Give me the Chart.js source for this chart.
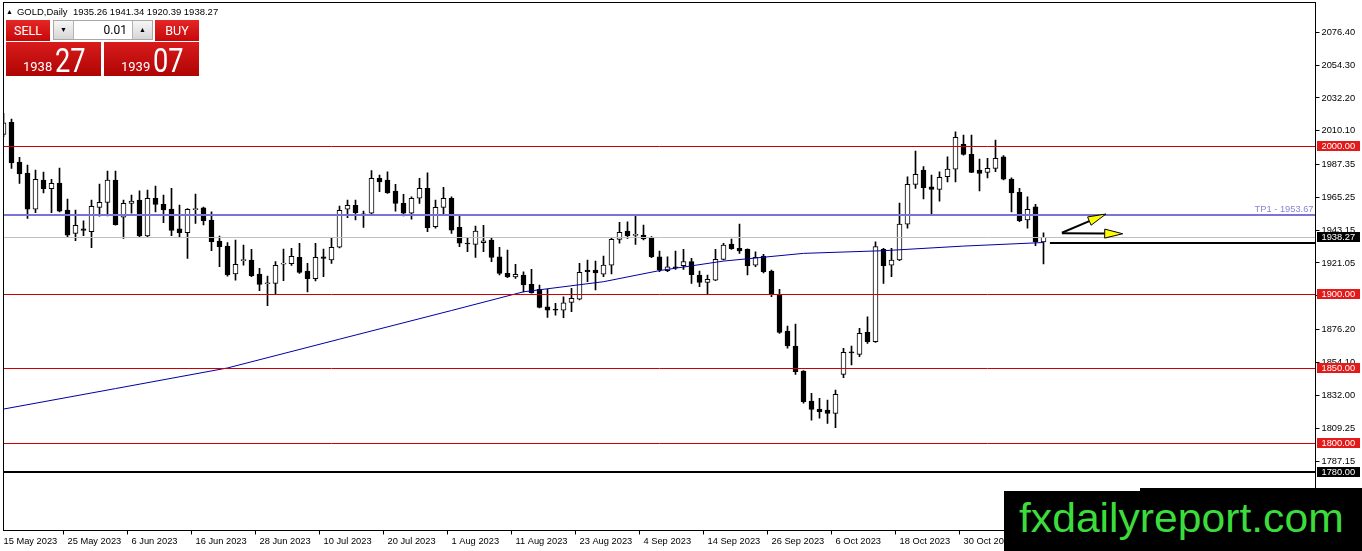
<!DOCTYPE html>
<html>
<head>
<meta charset="utf-8">
<title>GOLD, Daily</title>
<script src="https://cdn.jsdelivr.net/npm/chart.js@4.4.1/dist/chart.umd.min.js"></script>
<style>
  html, body { margin: 0; padding: 0; background: #fff; overflow: hidden; }
  #wrap { position: relative; width: 1362px; height: 551px; font-family: "Liberation Sans", Arial, sans-serif; }
  #chart { position: absolute; left: 0; top: 0; }
  #hdr { position: absolute; left: 6px; top: 6px; font-size: 9.5px; line-height: 11px; color: #000; white-space: pre; }
  #hdr .tri { font-size: 7px; vertical-align: 1px; margin-right: 4px; }
  .red { position: absolute; color: #fff; background: linear-gradient(#e42626, #c80808); font-family: Roboto, sans-serif; }
  #sell, #buy { top: 20px; width: 44px; height: 21px; line-height: 21px; text-align: center; font-size: 12.5px; }
  #sell { left: 6px; }
  #buy { left: 155px; }
  #lot { position: absolute; left: 53px; top: 20px; width: 100px; height: 20px; background: #fff; box-sizing: border-box; border: 1px solid #a8a8a8; }
  .spin { position: absolute; top: 0; width: 19px; height: 18px; background: linear-gradient(#f6f6f6, #d6d6d6); font-size: 7px; text-align: center; line-height: 18px; color: #000; }
  #dn { left: 0; border-right: 1px solid #b4b4b4; }
  #up { right: 0; border-left: 1px solid #b4b4b4; }
  #lotv { position: absolute; right: 25px; top: 0; line-height: 18px; font-size: 12px; font-family: Roboto, sans-serif; color: #000; }
  .px { top: 42px; width: 95px; height: 34px; background: linear-gradient(#d81c1c, #b00404); }
  #bidbox { left: 6px; }
  #askbox { left: 104px; }
  .px .sm { position: absolute; left: 17px; top: 18px; font-size: 13px; line-height: 14px; }
  .px .big { position: absolute; left: 49px; top: 1px; font-size: 34px; line-height: 34px; transform: scaleX(0.8); transform-origin: left; }
  #wm1 { position: absolute; left: 1004px; top: 491px; width: 358px; height: 60px; background: #000; }
  #wm2 { position: absolute; left: 1140px; top: 488px; width: 222px; height: 4px; background: #000; }
  #wmtext { position: absolute; left: 1019px; top: 495px; font-size: 41px; line-height: 46px; color: #3cdc3c; transform: scaleX(1.04); transform-origin: left; }
</style>
</head>
<body>
<div id="wrap">
  <canvas id="chart" width="1362" height="551"></canvas>
  <div id="hdr"></div>
  <div id="sell" class="red">SELL</div>
  <div id="lot"><div id="dn" class="spin">&#9660;</div><div id="lotv">0.01</div><div id="up" class="spin">&#9650;</div></div>
  <div id="buy" class="red">BUY</div>
  <div id="bidbox" class="red px"><span class="sm"></span><span class="big"></span></div>
  <div id="askbox" class="red px"><span class="sm"></span><span class="big"></span></div>
  <div id="wm1"></div>
  <div id="wm2"></div>
  <div id="wmtext">fxdailyreport.com</div>
</div>
<script>
// date labels, one every 8 trading days
const tickLabels = ['15 May 2023', '25 May 2023', '6 Jun 2023', '16 Jun 2023', '28 Jun 2023', '10 Jul 2023',
  '20 Jul 2023', '1 Aug 2023', '11 Aug 2023', '23 Aug 2023', '4 Sep 2023', '14 Sep 2023', '26 Sep 2023',
  '6 Oct 2023', '18 Oct 2023', '30 Oct 2023', '9 Nov 2023'];
const tickStep = 8;
const slots = 165;

// daily candles, 15 May 2023 .. 13 Nov 2023
const open = [2007.7, 2015.8, 1989.0, 1981.6, 1957.2, 1976.9, 1971.0, 1974.9, 1956.7, 1941.0,
  1944.1, 1942.1, 1958.5, 1961.9, 1976.9, 1951.8, 1961.2, 1963.4, 1939.2, 1964.6,
  1960.5, 1957.4, 1944.1, 1941.4, 1957.0, 1958.2, 1949.9, 1935.8, 1932.4, 1913.6,
  1922.6, 1923.0, 1913.6, 1907.0, 1907.3, 1920.2, 1920.5, 1924.8, 1915.6, 1910.4,
  1925.2, 1923.0, 1931.6, 1957.2, 1959.9, 1953.8, 1954.5, 1978.0, 1976.9, 1969.5,
  1961.2, 1954.5, 1964.6, 1971.3, 1945.4, 1958.5, 1964.6, 1945.0, 1934.1, 1933.6,
  1934.7, 1936.5, 1925.2, 1914.0, 1911.6, 1912.9, 1906.6, 1903.3, 1891.5, 1889.5,
  1889.3, 1894.5, 1896.7, 1916.3, 1916.3, 1913.4, 1919.6, 1936.9, 1942.5, 1939.6,
  1939.8, 1938.3, 1925.2, 1915.8, 1918.0, 1919.2, 1921.9, 1912.9, 1908.0, 1909.5,
  1923.5, 1933.8, 1930.9, 1930.2, 1919.6, 1925.7, 1915.6, 1899.4, 1875.2, 1865.1,
  1848.2, 1828.0, 1822.6, 1822.0, 1819.7, 1846.0, 1860.8, 1859.5, 1874.3, 1868.0,
  1930.2, 1919.6, 1923.0, 1947.1, 1974.0, 1983.6, 1972.4, 1970.6, 1979.1, 1984.3,
  2000.9, 1994.2, 1983.6, 1982.1, 1984.8, 1992.6, 1977.6, 1968.6, 1950.0, 1958.9,
  1935.26];
const high = [2021.8, 2018.0, 1992.2, 1987.0, 1983.6, 1982.3, 1977.4, 1985.0, 1964.1, 1956.7,
  1949.5, 1963.4, 1974.2, 1983.0, 1983.0, 1963.4, 1966.8, 1969.7, 1970.2, 1972.9,
  1966.8, 1971.3, 1960.1, 1957.6, 1967.5, 1958.6, 1955.5, 1939.2, 1934.7, 1936.5,
  1933.1, 1930.2, 1917.4, 1912.2, 1921.9, 1930.4, 1930.9, 1934.3, 1920.8, 1934.3,
  1930.4, 1937.6, 1959.4, 1963.4, 1963.4, 1956.0, 1983.2, 1980.3, 1982.5, 1974.0,
  1967.3, 1965.6, 1978.0, 1981.8, 1963.4, 1972.0, 1965.6, 1953.3, 1938.3, 1945.9,
  1946.4, 1938.3, 1931.6, 1929.7, 1920.1, 1915.1, 1916.7, 1906.2, 1903.3, 1893.8,
  1898.3, 1903.9, 1920.8, 1923.0, 1922.3, 1925.7, 1938.3, 1948.4, 1948.8, 1952.6,
  1946.6, 1938.8, 1929.1, 1925.2, 1929.1, 1930.2, 1924.1, 1915.6, 1912.9, 1930.2,
  1934.3, 1937.2, 1947.3, 1930.6, 1928.6, 1926.8, 1916.3, 1903.3, 1878.5, 1879.9,
  1848.6, 1833.2, 1829.8, 1828.7, 1835.4, 1863.5, 1865.1, 1877.0, 1884.8, 1935.3,
  1930.9, 1930.9, 1961.4, 1979.1, 1996.4, 1985.9, 1980.3, 1982.5, 1992.6, 2009.4,
  2007.2, 2007.2, 1991.0, 1991.5, 2003.8, 1993.3, 1978.4, 1971.3, 1965.6, 1960.5,
  1941.34];
const low = [2006.1, 1984.8, 1974.7, 1951.1, 1954.9, 1968.3, 1954.9, 1955.5, 1938.0, 1936.0,
  1939.4, 1931.3, 1952.6, 1952.8, 1946.5, 1937.6, 1954.5, 1938.7, 1938.7, 1955.5,
  1948.1, 1939.4, 1938.7, 1924.1, 1947.7, 1946.6, 1929.3, 1918.5, 1912.2, 1909.5,
  1919.6, 1911.8, 1902.3, 1892.2, 1900.1, 1909.1, 1919.4, 1914.0, 1901.6, 1908.9,
  1911.8, 1920.8, 1931.2, 1951.5, 1950.0, 1945.0, 1953.9, 1969.0, 1967.9, 1956.0,
  1952.8, 1950.6, 1961.2, 1942.1, 1944.4, 1953.3, 1941.0, 1932.0, 1928.6, 1924.8,
  1928.6, 1921.9, 1912.9, 1911.1, 1910.7, 1901.6, 1900.6, 1890.8, 1884.4, 1885.9,
  1884.1, 1888.2, 1896.1, 1908.4, 1902.8, 1911.8, 1913.6, 1934.3, 1937.6, 1933.6,
  1936.5, 1924.6, 1915.1, 1915.1, 1916.7, 1916.7, 1907.3, 1905.0, 1899.9, 1909.1,
  1923.0, 1930.2, 1927.5, 1912.9, 1918.5, 1914.4, 1898.3, 1873.6, 1863.7, 1846.0,
  1826.5, 1815.2, 1816.4, 1813.0, 1810.0, 1843.7, 1852.3, 1857.9, 1866.9, 1867.5,
  1907.3, 1911.8, 1922.6, 1944.4, 1971.3, 1964.1, 1953.3, 1962.7, 1975.7, 1975.7,
  1993.7, 1981.8, 1969.5, 1978.4, 1982.5, 1976.9, 1955.5, 1948.8, 1944.4, 1932.6,
  1920.39];
const close = [2015.5, 1988.5, 1981.1, 1957.2, 1977.4, 1971.0, 1974.7, 1956.0, 1939.8, 1946.4,
  1943.0, 1959.2, 1961.9, 1976.9, 1946.8, 1961.2, 1962.7, 1939.2, 1964.6, 1960.5,
  1956.7, 1943.0, 1941.4, 1957.2, 1957.4, 1949.5, 1935.3, 1932.0, 1912.9, 1920.1,
  1923.0, 1912.4, 1906.6, 1907.3, 1919.4, 1920.5, 1925.5, 1914.7, 1910.4, 1924.8,
  1924.1, 1931.6, 1956.5, 1959.9, 1954.9, 1953.5, 1978.0, 1975.7, 1968.3, 1961.2,
  1954.5, 1964.6, 1971.3, 1944.8, 1958.5, 1964.6, 1943.2, 1934.3, 1933.8, 1942.5,
  1936.0, 1924.8, 1914.0, 1911.6, 1913.4, 1906.2, 1901.0, 1891.1, 1889.3, 1889.3,
  1894.2, 1897.2, 1914.7, 1915.1, 1914.4, 1919.6, 1936.9, 1941.7, 1939.4, 1939.9,
  1937.2, 1925.2, 1916.3, 1918.5, 1917.8, 1921.9, 1913.1, 1908.0, 1910.0, 1923.5,
  1933.1, 1930.6, 1929.1, 1919.2, 1924.8, 1915.1, 1899.9, 1874.3, 1865.1, 1847.8,
  1827.6, 1822.4, 1820.8, 1819.7, 1832.5, 1860.8, 1860.5, 1873.6, 1868.0, 1932.0,
  1919.2, 1923.0, 1947.3, 1974.0, 1980.7, 1971.7, 1970.6, 1978.7, 1984.3, 2005.7,
  1994.2, 1982.1, 1981.4, 1984.8, 1991.5, 1977.4, 1968.3, 1949.5, 1957.2, 1935.3,
  1938.27];

// moving average, read at a few candles
const maIdx = [0, 14, 28, 42, 56, 65, 75, 82, 90, 100, 110, 120, 130];
const maVal = [1822.6, 1836.4, 1850.3, 1869.7, 1889.0, 1901.6, 1908.4, 1915.9, 1922.3, 1927.5, 1929.3, 1932.4, 1934.8];

// price axis
const yTicks = [2076.40, 2054.30, 2032.20, 2010.10, 1987.35, 1965.25, 1943.15, 1921.05, 1898.95, 1876.20,
  1854.10, 1832.00, 1809.25, 1787.15];
const yMin = 1740.8;
const yMax = 2096.5;

// levels drawn on the chart
const redLevels = [2000, 1900, 1850, 1800];
const tpLevel = 1953.67;
const bid = 1938.27;
const ask = 1939.07;
const floorLevel = 1780;
const markLevel = 1934.7;
const markFrom = 130.8;
const arrows = [
  { from: [132.3, 1941.4], to: [137.8, 1954.0] },
  { from: [132.3, 1941.1], to: [139.9, 1940.7] }
];

const last = open.length - 1;
document.getElementById('hdr').innerHTML = '<span class="tri">&#9650;</span>GOLD,Daily  ' +
  [open[last], high[last], low[last], close[last]].map(v => v.toFixed(2)).join(' ');
function fillPrice(id, p) {
  const s = p.toFixed(2).split('.');
  const el = document.getElementById(id);
  el.querySelector('.sm').textContent = s[0];
  el.querySelector('.big').textContent = s[1];
}
fillPrice('bidbox', bid);
fillPrice('askbox', ask);

const labels = Array.from({ length: slots }, (_, i) => i % tickStep === 0 ? (tickLabels[i / tickStep] || '') : '');
const maData = new Array(open.length).fill(null);
maIdx.forEach((k, j) => { maData[k] = maVal[j]; });

const font = { family: 'Liberation Sans', size: 9.3 };

const overlay = {
  id: 'overlay',
  afterDatasetsDraw(chart) {
    const { ctx, chartArea: a, scales: { x, y } } = chart;
    ctx.save();
    ctx.beginPath();
    ctx.rect(a.left, a.top, a.right - a.left, a.bottom - a.top);
    ctx.clip();
    const hline = (v, color, w, x0) => {
      const py = Math.round(y.getPixelForValue(v)) + (w % 2 ? 0.5 : 0);
      ctx.strokeStyle = color;
      ctx.lineWidth = w;
      ctx.beginPath();
      ctx.moveTo(x0 === undefined ? a.left : x0, py);
      ctx.lineTo(a.right, py);
      ctx.stroke();
    };
    hline(bid, '#c0c0c0', 1);
    redLevels.forEach(v => hline(v, '#cc0000', 1));
    hline(tpLevel, '#7b73d6', 2);
    hline(floorLevel, '#000', 2);
    hline(markLevel, '#000', 2, x.getPixelForValue(markFrom));

    ctx.fillStyle = '#8a83d8';
    ctx.font = font.size + 'px "' + font.family + '"';
    ctx.textAlign = 'right';
    ctx.textBaseline = 'alphabetic';
    ctx.fillText('TP1 - ' + tpLevel.toFixed(2), a.right - 2, y.getPixelForValue(tpLevel) - 2.5);

    arrows.forEach(ar => {
      const x0 = x.getPixelForValue(ar.from[0]), y0 = y.getPixelForValue(ar.from[1]);
      const x1 = x.getPixelForValue(ar.to[0]), y1 = y.getPixelForValue(ar.to[1]);
      const ang = Math.atan2(y1 - y0, x1 - x0);
      const len = 18, half = 4.5;
      const bx = x1 - Math.cos(ang) * len, by = y1 - Math.sin(ang) * len;
      ctx.strokeStyle = '#000';
      ctx.lineWidth = 2;
      ctx.beginPath();
      ctx.moveTo(x0, y0);
      ctx.lineTo(bx, by);
      ctx.stroke();
      ctx.beginPath();
      ctx.moveTo(x1, y1);
      ctx.lineTo(bx + Math.sin(ang) * half, by - Math.cos(ang) * half);
      ctx.lineTo(bx - Math.sin(ang) * half, by + Math.cos(ang) * half);
      ctx.closePath();
      ctx.fillStyle = '#ffff00';
      ctx.fill();
      ctx.lineWidth = 1;
      ctx.stroke();
    });
    ctx.restore();
  },
  afterDraw(chart) {
    const { ctx, chartArea: a, scales: { y } } = chart;
    ctx.save();
    ctx.strokeStyle = '#000';
    ctx.lineWidth = 1;
    ctx.strokeRect(a.left, a.top, a.right - a.left, a.bottom - a.top);
    const boxes = redLevels.map(v => [v, '#e31a1a']).concat([[bid, '#000'], [floorLevel, '#000']]);
    ctx.font = font.size + 'px "' + font.family + '"';
    ctx.textAlign = 'left';
    ctx.textBaseline = 'middle';
    boxes.forEach(([v, c]) => {
      const py = y.getPixelForValue(v);
      ctx.fillStyle = c;
      ctx.fillRect(a.right + 1.5, Math.round(py) - 5, 43, 10);
      ctx.fillStyle = '#fff';
      ctx.fillText(v.toFixed(2), a.right + 6, py + 0.5);
    });
    ctx.restore();
  }
};

new Chart(document.getElementById('chart').getContext('2d'), {
  type: 'bar',
  data: {
    labels: labels,
    datasets: [{
      type: 'line',
      data: maData,
      borderColor: '#0000a0',
      borderWidth: 1,
      pointRadius: 0,
      spanGaps: true,
      order: 0
    }, {
      data: open.map((o, i) => [o, close[i]]),
      backgroundColor: open.map((o, i) => close[i] >= o ? '#ffffff' : '#000000'),
      borderColor: '#000',
      borderWidth: 1,
      borderSkipped: false,
      barThickness: 5,
      minBarLength: 1,
      grouped: false,
      order: 1
    }, {
      data: low.map((l, i) => [l, high[i]]),
      backgroundColor: '#000',
      borderWidth: 0,
      barThickness: 1,
      grouped: false,
      order: 2
    }]
  },
  options: {
    responsive: false,
    devicePixelRatio: 1,
    animation: false,
    events: [],
    layout: { padding: { left: 3.5, top: 2.5, right: 0, bottom: 0 } },
    plugins: { legend: { display: false }, tooltip: { enabled: false } },
    scales: {
      x: {
        type: 'category',
        offset: false,
        border: { display: false },
        grid: {
          drawOnChartArea: false,
          drawTicks: true,
          tickLength: 4,
          color: ctx => ctx.index % tickStep === 0 ? '#000' : 'rgba(0,0,0,0)'
        },
        ticks: { autoSkip: false, maxRotation: 0, minRotation: 0, align: 'start', padding: 1, color: '#000', font: font },
        afterFit: s => { s.height = 20.5; s.paddingLeft = 0; s.paddingRight = 0; }
      },
      y: {
        position: 'right',
        min: yMin,
        max: yMax,
        border: { display: false },
        grid: { drawOnChartArea: false, tickLength: 4, color: '#000' },
        afterBuildTicks: s => { s.ticks = yTicks.map(v => ({ value: v })); },
        ticks: { autoSkip: false, padding: 2, color: '#000', font: font, callback: v => v.toFixed(2) },
        afterFit: s => { s.width = 46.5; s.paddingTop = 0; s.paddingBottom = 0; }
      }
    }
  },
  plugins: [overlay]
});
</script>
</body>
</html>
